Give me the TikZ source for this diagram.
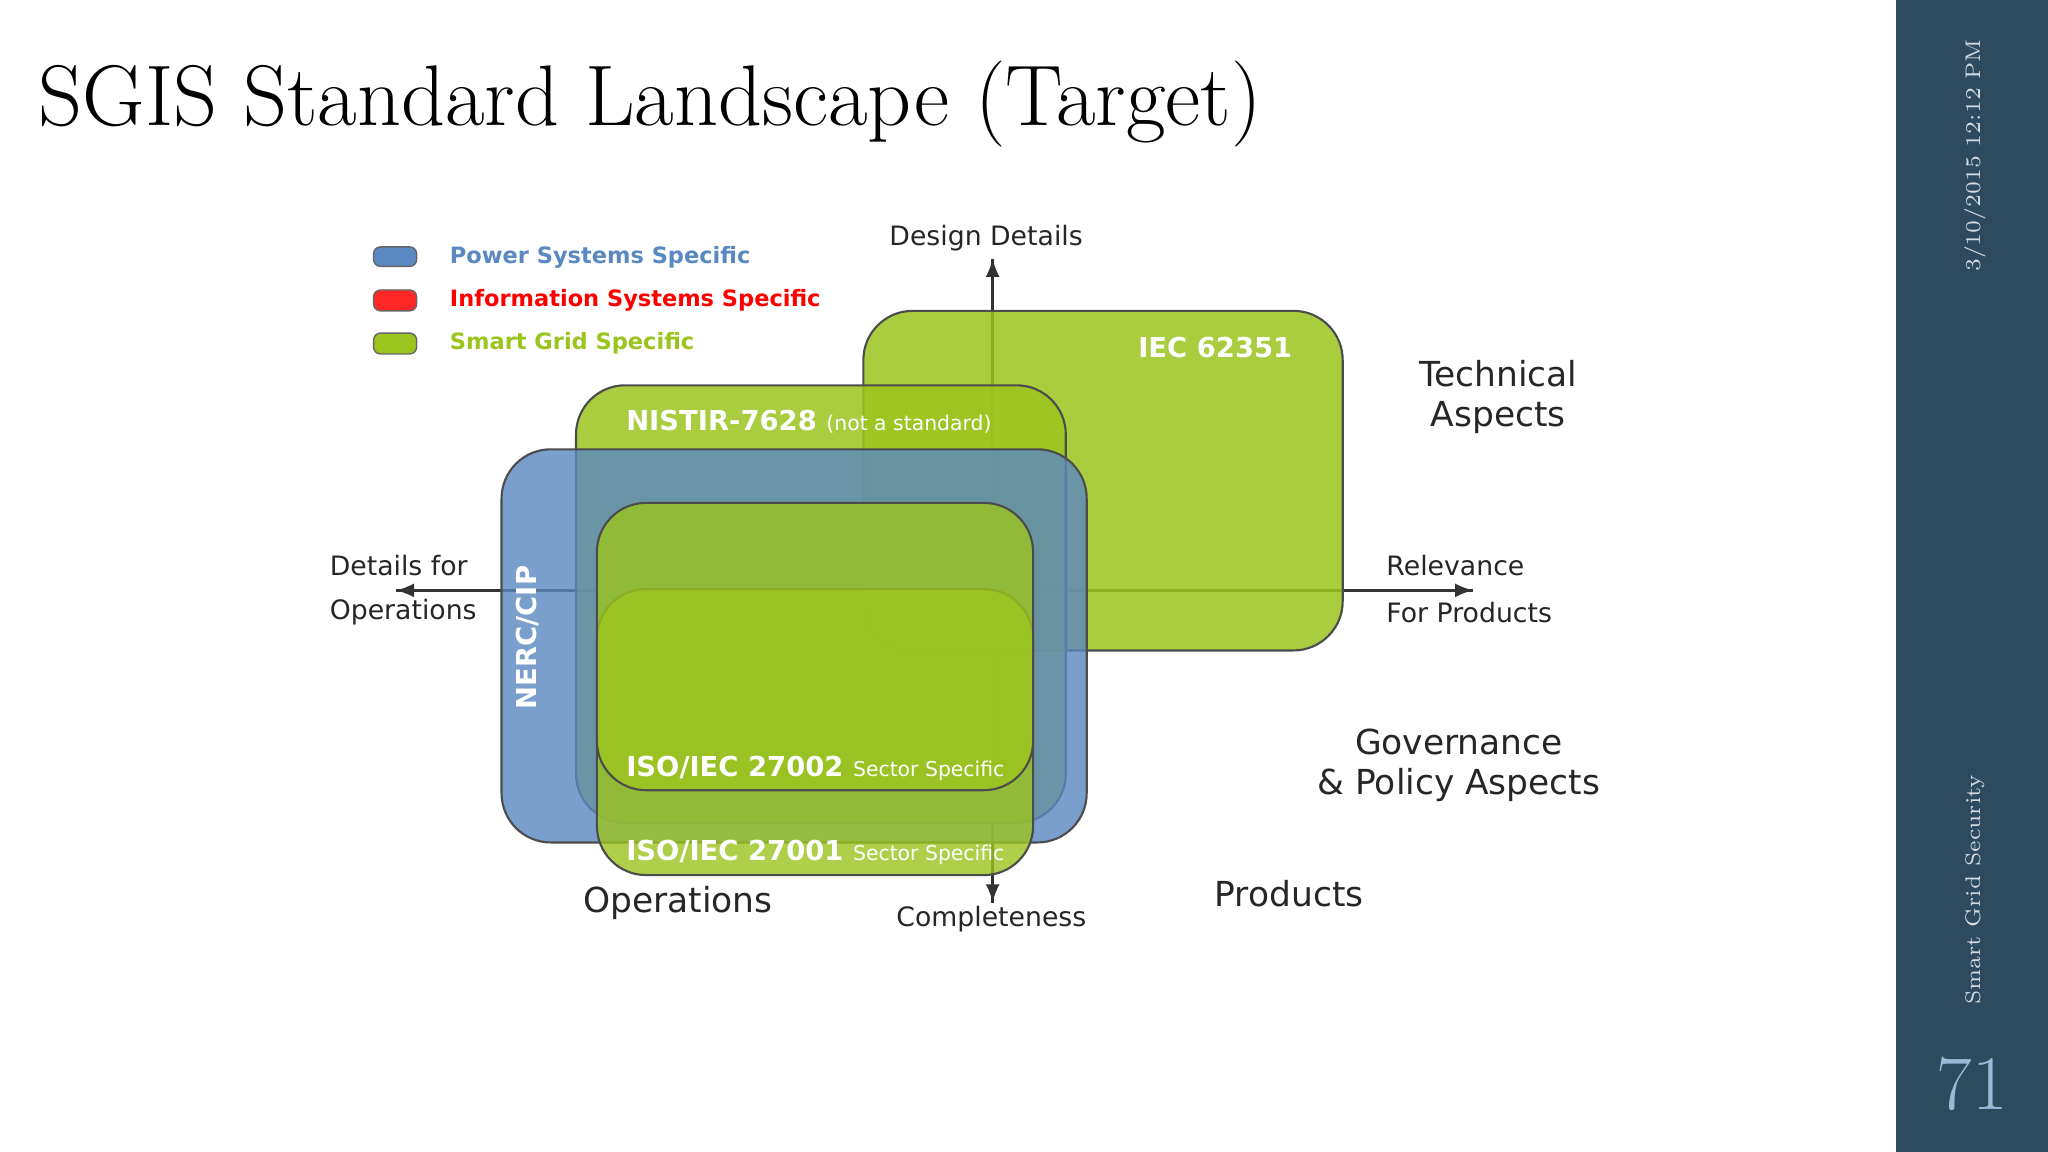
\documentclass[tikz,border=0pt]{standalone}
\usepackage{fontspec}
\newfontfamily\sans{DejaVu Sans}
\newcommand\smallsans{\fontsize{5.8}{7}\selectfont}
\begin{document}
\begin{tikzpicture}[x=0.013061cm,y=-0.013061cm,
  box/.style={rounded corners=14pt,draw=black!70,line width=0.6pt},
  lbl/.style={font=\sans\fontsize{7.6}{9}\selectfont,text=black!85},
  big/.style={font=\sans\fontsize{9.8}{11.5}\selectfont,text=black!85,align=center},
  inb/.style={font=\sans\bfseries\fontsize{7.8}{9}\selectfont,text=white,anchor=west},
  ax/.style={-latex,line width=0.8pt,black!80}]
\definecolor{gr}{HTML}{9CC41E}
\definecolor{bl}{HTML}{5A88C0}
\definecolor{side}{HTML}{2E4A5E}
\useasboundingbox (0,0) rectangle (1568,882);
\fill[white] (0,0) rectangle (1568,882);
\fill[side] (1452,0) rectangle (1568,882);
\node[anchor=base west,font=\fontsize{24.5}{28}\selectfont] (title) at (20,96) {SGIS Standard Landscape (Target)};
\node[rotate=90,font=\fontsize{6}{8}\selectfont,text=white!80!side] (date) at (1512,119) {3/10/2015 12:12 PM};
\node[rotate=90,font=\fontsize{6}{8}\selectfont,text=white!80!side] (foot) at (1512,681) {Smart Grid Security};
\node[font=\fontsize{22}{26}\selectfont,text=bl!60!white] (num) at (1510,830) {71};
% legend
\draw[black!60,fill=bl,rounded corners=2pt] (286,189) rectangle (319,204);
\draw[black!60,fill=red!85!white,rounded corners=2pt] (286,222) rectangle (319,238);
\draw[black!60,fill=gr,rounded corners=2pt] (286,255) rectangle (319,271);
\node[anchor=west,font=\sans\bfseries\fontsize{6.4}{8}\selectfont,text=bl] (l1) at (335,197) {Power Systems Specific};
\node[anchor=west,font=\sans\bfseries\fontsize{6.4}{8}\selectfont,text=red] (l2) at (335,230) {Information Systems Specific};
\node[anchor=west,font=\sans\bfseries\fontsize{6.4}{8}\selectfont,text=gr] (l3) at (335,263) {Smart Grid Specific};
% axes
\coordinate (top) at (760,198); \coordinate (bot) at (760,691);
\coordinate (lft) at (303,452); \coordinate (rgt) at (1128,452);
\draw[ax] (bot) -- (top); \draw[ax] (top) -- (bot);
\draw[ax] (rgt) -- (lft); \draw[ax] (lft) -- (rgt);
% boxes
\draw[box,fill=gr,fill opacity=0.85] (661,238) rectangle (1028,498);
\node[inb] (iec) at (862,266) {IEC 62351};
\draw[box,fill=gr,fill opacity=0.85] (441,295) rectangle (816,630);
\node[inb] (nist) at (470,323) {NISTIR-7628 {\mdseries\smallsans(not a standard)}};
\draw[box,fill=bl,fill opacity=0.8] (384,344) rectangle (832,645);
\node[inb,rotate=90,anchor=center] (nerc) at (404,488) {NERC/CIP};
\draw[box,fill=gr,fill opacity=0.8] (457,451) rectangle (791,670);
\draw[box,fill=gr,fill opacity=0.8] (457,385) rectangle (791,605);
\node[inb] (i2) at (470,588) {ISO/IEC 27002 {\mdseries\smallsans Sector Specific}};
\node[inb] (i1) at (470,653) {ISO/IEC 27001 {\mdseries\smallsans Sector Specific}};
% labels
\node[lbl] (dd) at (755,182) {Design Details};
\node[lbl] (cp) at (759,704) {Completeness};
\node[lbl,anchor=west] (d1) at (243,433) {Details for};
\node[lbl,anchor=west] (d2) at (243,469) {Operations};
\node[lbl,anchor=west] (r1) at (1052,433) {Relevance};
\node[lbl,anchor=west] (r2) at (1052,469) {For Products};
\node[big] (ta) at (1147,304) {Technical\\ Aspects};
\node[big] (gv) at (1117,586) {Governance\\\& Policy Aspects};
\node[big] (pr) at (987,684) {Products};
\node[big] (op) at (519,691) {Operations};
\end{tikzpicture}
\end{document}
